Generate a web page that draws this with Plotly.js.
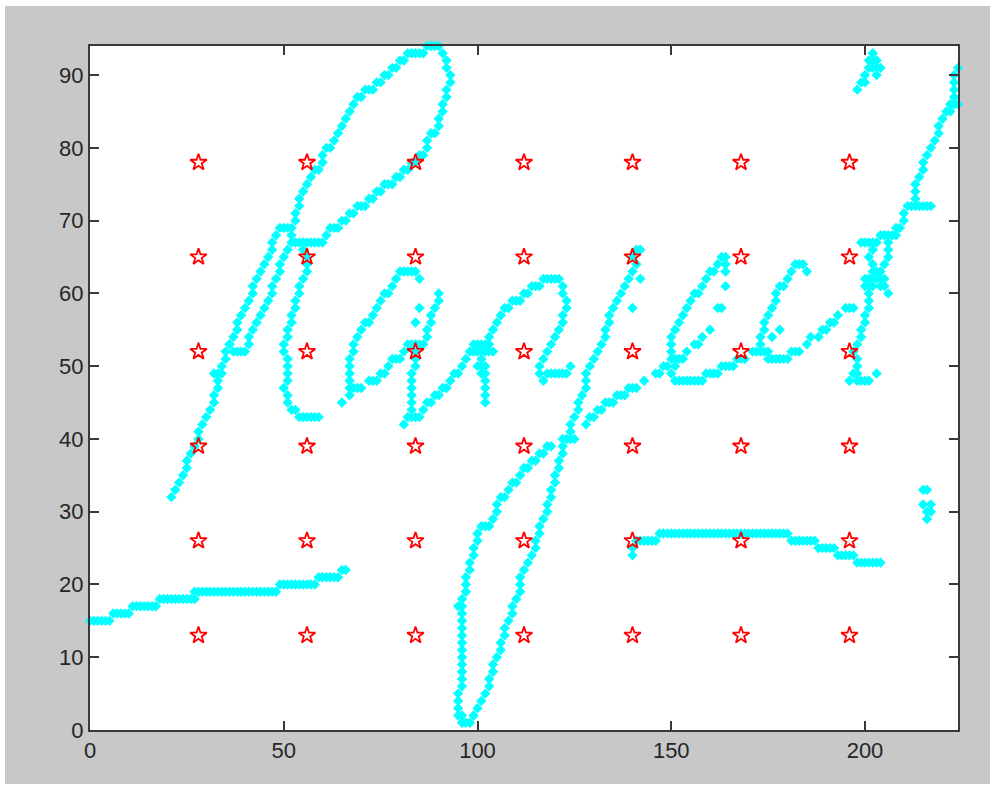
<!DOCTYPE html>
<html><head><meta charset="utf-8">
<script src="https://cdn.plot.ly/plotly-3.0.1.min.js"></script>
<style>html,body{margin:0;padding:0;background:#fff;overflow:hidden}#c{position:absolute;left:5px;top:6px;width:985px;height:778px}</style>
</head><body><div id="c"></div>
<script>
const gridX = [28,56,84,112,140,168,196];
const gridY = [13,26,39,52,65,78];
const baseline = [[0,15],[1,15],[2,15],[3,15],[4,15],[5,15],[6,16],[7,16],[8,16],[9,16],[10,16],[11,17],[12,17],[13,17],[14,17],[15,17],[16,17],[17,17],[18,18],[19,18],[20,18],[21,18],[22,18],[23,18],[24,18],[25,18],[26,18],[27,18],[27,19],[28,19],[29,19],[30,19],[31,19],[32,19],[33,19],[34,19],[35,19],[36,19],[37,19],[38,19],[39,19],[40,19],[41,19],[42,19],[43,19],[44,19],[45,19],[46,19],[47,19],[48,19],[49,20],[50,20],[51,20],[52,20],[53,20],[54,20],[55,20],[56,20],[57,20],[58,20],[59,21],[60,21],[61,21],[62,21],[63,21],[64,21],[65,22],[66,22]];
const strokeR = [[21,32],[22,33],[23,34],[24,35],[25,36],[25,37],[26,38],[27,39],[28,40],[28,41],[29,42],[30,43],[31,44],[32,45],[32,46],[33,47],[33,48],[32,49],[33,49],[34,49],[34,50],[35,51],[35,52],[36,53],[37,54],[38,55],[38,56],[39,57],[40,58],[41,59],[42,60],[42,61],[43,62],[44,63],[45,64],[46,65],[47,66],[47,67],[48,68],[49,69],[50,69],[51,69],[52,69],[53,70],[53,71],[54,72],[54,73],[55,74],[56,75],[57,76],[58,77],[59,77],[60,78],[60,79],[61,80],[62,80],[63,81],[64,82],[65,83],[66,84],[67,85],[68,86],[69,87],[70,87],[71,88],[72,88],[73,88],[74,89],[75,89],[76,90],[77,90],[78,91],[79,91],[80,92],[81,92],[82,93],[83,93],[84,93],[85,93],[86,93],[87,94],[88,94],[89,94],[90,94],[91,93],[92,92],[92,91],[93,90],[93,89],[92,88],[92,87],[91,86],[91,85],[90,84],[90,83],[89,82],[88,82],[87,81],[87,80],[86,79],[85,79],[84,78],[83,78],[82,77],[81,77],[80,76],[79,76],[78,75],[77,75],[76,75],[75,74],[74,74],[73,73],[72,73],[71,72],[70,72],[69,72],[68,71],[67,71],[66,70],[65,70],[64,69],[63,69],[62,69],[61,68],[60,67],[59,67],[58,67],[57,67],[56,67],[55,67],[54,67],[53,67],[52,67],[52,68],[51,66],[50,65],[49,64],[49,63],[48,62],[47,61],[47,60],[46,59],[45,58],[44,57],[43,56],[42,55],[41,54],[41,53],[40,52],[39,52],[38,52],[37,52],[36,53]];
const stemR = [[55,66],[56,65],[56,64],[56,63],[55,62],[54,61],[54,60],[53,59],[53,58],[52,57],[52,56],[51,55],[51,54],[50,53],[50,52],[51,51],[51,50],[51,49],[51,48],[50,47],[51,46],[51,45],[52,44],[53,44],[54,43],[55,43],[56,43],[57,43],[58,43],[59,43]];
const strokeA = [[65,45],[67,46],[67,47],[67,48],[67,49],[67,50],[67,51],[68,52],[68,53],[69,54],[70,55],[71,56],[72,56],[73,57],[74,58],[75,59],[76,60],[77,60],[78,61],[79,62],[80,63],[81,63],[82,63],[83,63],[84,63],[85,62],[68,47],[69,47],[70,47],[72,48],[73,48],[74,48],[75,49],[76,49],[77,50],[78,51],[79,51],[80,51],[81,52],[82,53],[83,53],[84,53],[85,53],[86,53],[87,54],[87,55],[88,56],[88,57],[89,58],[90,59],[90,60],[85,58],[84,56]];
const strokeN = [[84,52],[84,51],[84,50],[83,49],[83,48],[83,47],[83,46],[83,45],[83,44],[82,43],[81,42],[83,43],[84,43],[85,43],[86,44],[87,45],[88,45],[89,46],[90,46],[91,47],[92,47],[93,48],[94,49],[95,49],[96,50],[97,51],[98,52],[99,52],[99,53],[100,52],[100,53],[101,52],[101,53],[102,52],[102,53],[103,53],[103,52],[104,52],[101,51],[100,50],[101,50],[102,50],[101,49],[102,49],[102,48],[102,47],[102,46],[102,45],[103,54],[104,55],[105,56],[106,57],[107,58],[108,58],[109,59],[110,59],[111,59],[112,60],[113,60],[114,61],[115,61],[116,61],[117,62],[118,62],[119,62],[120,62],[121,62],[122,61],[122,60],[123,59],[123,58],[122,57],[122,56],[121,55],[120,54],[119,53],[118,52],[117,51],[116,50],[116,49],[117,48],[118,49],[119,49],[120,49],[121,49],[122,49],[123,49],[124,50]];
const loopLeft = [[97,1],[96,1],[95,2],[95,3],[96,2],[95,4],[95,5],[96,6],[96,7],[96,8],[96,9],[96,10],[96,11],[96,12],[96,13],[96,14],[96,15],[96,16],[95,17],[96,17],[96,18],[97,19],[97,20],[97,21],[98,22],[98,23],[99,24],[99,25],[100,26],[100,27],[101,28],[102,28],[103,28],[104,29],[105,30],[105,31],[106,32],[107,32],[108,33],[109,34],[110,34],[111,35],[112,36],[113,36],[114,37],[115,37],[116,38],[117,38],[118,39],[119,39]];
const loopRight = [[98,1],[99,2],[100,3],[101,4],[102,5],[103,6],[103,7],[104,8],[104,9],[105,10],[106,11],[106,12],[107,13],[107,14],[108,15],[109,16],[109,17],[110,18],[111,19],[111,20],[111,21],[112,22],[113,23],[114,24],[115,25],[115,26],[116,27],[116,28],[117,29],[118,30],[118,31],[119,32],[119,33],[120,34],[120,35],[121,36],[121,37],[122,38],[122,39],[122,40],[123,40],[124,40],[125,40],[124,41],[124,42],[125,43],[126,44],[126,45],[127,46],[128,47],[128,48],[128,49],[129,50],[130,51],[131,52],[132,53],[133,54],[133,55],[134,56],[134,57],[135,58],[136,59],[137,60],[138,61],[139,62],[140,63],[141,64],[140,65],[141,66],[142,66],[142,62],[140,58]];
const strokeE = [[128,42],[129,43],[130,43],[131,44],[132,44],[133,45],[134,45],[135,45],[136,46],[137,46],[138,46],[139,47],[140,47],[141,47],[143,48],[146,49],[147,49],[148,50],[149,50],[150,49],[151,50],[150,51],[151,51],[152,51],[153,51],[150,52],[150,53],[150,54],[151,55],[152,56],[153,57],[154,58],[155,59],[156,60],[157,60],[158,61],[159,62],[160,63],[161,63],[162,64],[163,65],[164,65],[164,64],[164,63],[164,61],[162,58],[163,58],[160,55],[158,54],[157,53],[156,53],[154,52],[151,48],[152,48],[153,48],[154,48],[155,48],[156,48],[157,48],[158,48],[159,49],[160,49],[161,49],[162,49],[163,50],[164,50],[165,50],[166,50],[167,51],[168,51],[169,51]];
const strokeC = [[171,52],[172,52],[173,52],[174,52],[175,52],[173,53],[173,54],[174,55],[174,56],[175,57],[176,58],[177,59],[177,60],[178,61],[179,61],[180,62],[181,63],[182,64],[183,64],[184,64],[185,63],[178,55],[176,54],[175,51],[176,51],[177,51],[178,51],[179,51],[180,51],[181,52],[182,52],[183,52],[185,53],[186,54],[188,54],[189,55],[190,55],[191,56],[192,56],[193,57],[195,58],[196,58],[197,58]];
const strokeT = [[196,48],[198,48],[199,48],[200,48],[201,48],[203,49],[197,49],[198,49],[198,50],[198,51],[197,52],[198,53],[199,54],[199,55],[200,56],[200,57],[201,58],[201,59],[201,60],[200,61],[201,61],[202,61],[200,62],[201,62],[202,62],[203,62],[204,62],[205,62],[202,63],[203,63],[204,63],[202,64],[205,64],[201,65],[206,65],[202,66],[206,66],[199,67],[200,67],[201,67],[202,67],[203,67],[206,67],[204,68],[205,68],[206,68],[207,68],[208,68],[209,69],[208,69],[210,70],[210,71],[211,72],[212,72],[213,72],[214,72],[215,72],[216,72],[217,72],[213,73],[213,74],[213,75],[214,76],[215,77],[215,78],[216,79],[217,80],[218,81],[219,82],[219,83],[220,84],[221,85],[222,85],[222,86],[223,86],[224,86],[223,87],[223,88],[223,89],[223,90],[224,91],[206,60],[205,61],[204,61]];
const strokeTop = [[198,88],[199,89],[200,89],[200,90],[201,91],[202,91],[203,91],[204,91],[203,90],[201,92],[202,92],[203,92],[202,93]];
const strokeLower = [[140,24],[140,25],[141,26],[142,26],[143,26],[144,26],[145,26],[146,26],[147,27],[148,27],[149,27],[150,27],[151,27],[152,27],[153,27],[154,27],[155,27],[156,27],[157,27],[158,27],[159,27],[160,27],[161,27],[162,27],[163,27],[164,27],[165,27],[166,27],[167,27],[168,27],[169,27],[170,27],[171,27],[172,27],[173,27],[174,27],[175,27],[176,27],[177,27],[178,27],[179,27],[180,27],[181,26],[182,26],[183,26],[184,26],[185,26],[186,26],[187,26],[188,25],[189,25],[190,25],[191,25],[192,25],[193,24],[194,24],[195,24],[196,24],[197,24],[198,23],[199,23],[200,23],[201,23],[202,23],[203,23],[204,23]];
const strokeDot = [[215,33],[216,33],[215,31],[217,31],[216,30],[217,30],[216,29]];

const allStrokes = [baseline,strokeR,stemR,strokeA,strokeN,loopLeft,loopRight,strokeE,strokeC,strokeT,strokeTop,strokeLower,strokeDot];
const pts = allStrokes.flat();
const starX = [], starY = [];
gridX.forEach(x => gridY.forEach(y => { starX.push(x); starY.push(y); }));

const axis = {
  showgrid:false, zeroline:false, showline:true, mirror:'ticks', linecolor:'#3a3a3a', linewidth:2,
  ticks:'inside', ticklen:9, tickwidth:2, tickcolor:'#3a3a3a',
  tickfont:{family:'Liberation Sans, Arial, sans-serif', size:22, color:'#262626'}
};
Plotly.newPlot('c', [
  {type:'scatter', mode:'markers', x:pts.map(p=>p[0]), y:pts.map(p=>p[1]), cliponaxis:false,
   marker:{symbol:'diamond', size:8, color:'#00ffff', line:{width:0}}, showlegend:false, hoverinfo:'skip'},
  {type:'scatter', mode:'markers', x:starX, y:starY, cliponaxis:false,
   marker:{symbol:'star-open', size:12.5, color:'#ff0000', line:{width:1.8, color:'#ff0000'}}, showlegend:false, hoverinfo:'skip'}
], {
  width:985, height:778, paper_bgcolor:'#c8c8c8', plot_bgcolor:'#ffffff',
  margin:{l:85, r:32, t:40, b:54}, showlegend:false,
  xaxis:Object.assign({}, axis, {range:[0,224], tickvals:[0,50,100,150,200], ticktext:['0','50','100','150','200']}),
  yaxis:Object.assign({}, axis, {range:[0,94], tickvals:[0,10,20,30,40,50,60,70,80,90], ticktext:['0','10','20','30','40','50','60','70','80','90']})
}, {displayModeBar:false, staticPlot:true});
</script></body></html>
